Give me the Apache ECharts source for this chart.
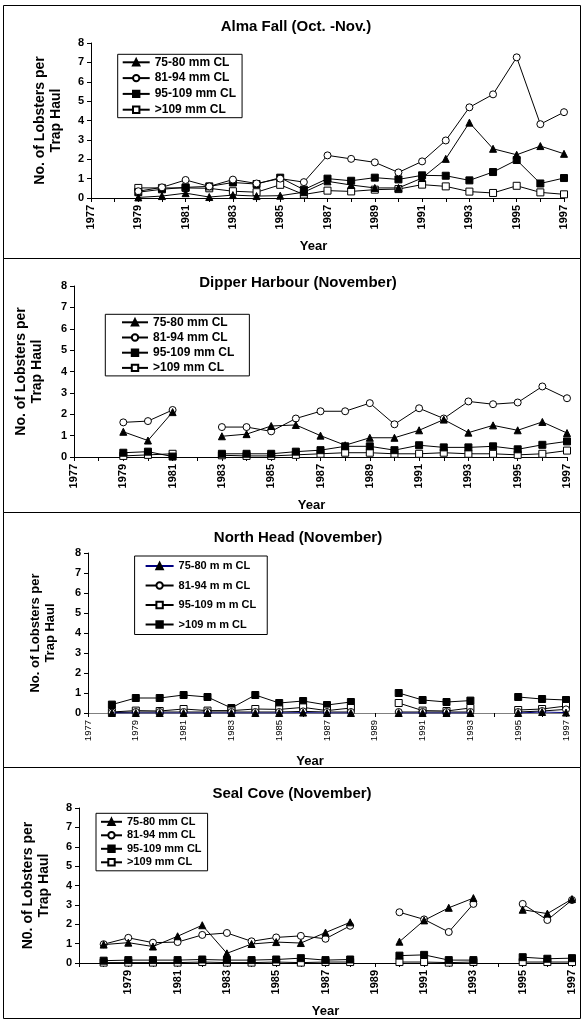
<!DOCTYPE html>
<html>
<head>
<meta charset="utf-8">
<script src="https://cdn.jsdelivr.net/npm/echarts@6/dist/echarts.min.js"></script>
<style>html,body{margin:0;padding:0;background:#fff}#c{width:583px;height:1021px}</style>
</head>
<body>
<div id="c"></div>
<script>
// ---- data ----
const years = ['1977','1978','1979','1980','1981','1982','1983','1984','1985','1986','1987','1988','1989','1990','1991','1992','1993','1994','1995','1996','1997'];
const yTicks = [0,1,2,3,4,5,6,7,8];

// Alma Fall (Oct.-Nov.)
const alma75  = [null,null,0.03,0.10,0.25,0.05,0.15,0.10,0.12,0.30,0.86,0.67,0.52,0.52,1.03,2.02,3.89,2.54,2.23,2.68,2.28];
const alma81  = [null,null,0.35,0.55,0.93,0.60,0.95,0.75,1.00,0.82,2.20,2.02,1.84,1.32,1.89,2.97,4.68,5.35,7.26,3.81,4.43];
const alma95  = [null,null,0.30,0.45,0.55,0.60,0.80,0.72,1.05,0.43,1.00,0.89,1.05,0.96,1.17,1.15,0.91,1.34,1.96,0.75,1.03];
const alma109 = [null,null,0.52,0.52,0.52,0.50,0.35,0.30,0.68,0.18,0.38,0.34,0.43,0.46,0.69,0.60,0.33,0.26,0.63,0.29,0.19];

// Dipper Harbour (November)
const dip75  = [null,null,1.18,0.77,2.10,null,0.97,1.07,1.45,1.50,1.00,0.55,0.90,0.90,1.25,1.75,1.14,1.48,1.25,1.64,1.12];
const dip81  = [null,null,1.62,1.68,2.20,null,1.40,1.40,1.20,1.80,2.14,2.14,2.52,1.53,2.28,1.80,2.60,2.47,2.55,3.30,2.75];
const dip95  = [null,null,0.20,0.25,0.02,null,0.15,0.15,0.15,0.25,0.32,0.50,0.50,0.32,0.55,0.45,0.45,0.50,0.36,0.57,0.73];
const dip109 = [null,null,0.05,0.10,0.15,null,0.08,0.05,0.05,0.10,0.15,0.20,0.20,0.15,0.15,0.20,0.15,0.15,0.10,0.15,0.30];

// North Head (November)
const nh75  = [null,0.00,0.00,0.00,0.00,0.00,0.00,0.00,0.00,0.02,0.00,0.00,null,0.00,0.00,0.00,0.00,null,0.00,0.05,0.02];
const nh81  = [null,0.02,0.05,0.05,0.05,0.05,0.05,0.05,0.05,0.08,0.05,0.05,null,0.05,0.05,0.05,0.05,null,0.05,0.10,0.18];
const nh95  = [null,0.05,0.12,0.10,0.20,0.12,0.12,0.20,0.18,0.28,0.12,0.25,null,0.50,0.12,0.10,0.25,null,0.15,0.20,0.35];
const nh109 = [null,0.42,0.75,0.75,0.90,0.80,0.25,0.90,0.50,0.60,0.40,0.55,null,1.00,0.65,0.55,0.62,null,0.80,0.70,0.65];

// Seal Cove (November)
const sc75  = [null,0.95,1.05,0.85,1.38,1.95,0.50,0.98,1.08,1.03,1.57,2.10,null,1.10,2.20,2.85,3.35,null,2.75,2.55,3.30];
const sc81  = [null,0.97,1.30,1.05,1.08,1.45,1.55,1.12,1.32,1.40,1.25,1.92,null,2.62,2.25,1.60,3.05,null,3.05,2.22,3.25];
const sc95  = [null,0.12,0.15,0.15,0.15,0.18,0.15,0.15,0.18,0.25,0.15,0.18,null,0.38,0.42,0.15,0.15,null,0.30,0.22,0.25];
const sc109 = [null,0.02,0.02,0.02,0.02,0.05,0.02,0.02,0.05,0.02,0.05,0.05,null,0.05,0.05,0.02,0.05,null,0.05,0.05,0.05];

const titles = ['Alma Fall (Oct. -Nov.)','Dipper Harbour (November)','North Head (November)','Seal Cove (November)'];
const yNames = ['No. of Lobsters per\nTrap Haul','No. of Lobsters per\nTrap Haul','No. of Lobsters per\nTrap Haul','N0. of Lobsters per\nTrap Haul'];
const xName = 'Year';
const sizeNames = ['75-80 mm CL','81-94 mm CL','95-109 mm CL','>109 mm CL'];
const sizeNamesNH = ['75-80 m m CL','81-94 m m CL','95-109 m m CL','>109 m m CL'];

// ---- styles ----
const FONT = 'Arial, "Liberation Sans", sans-serif';
const sym = {
  triBlack: {symbol:'triangle', color:'#000'},
  circWhite: {symbol:'circle', color:'#fff'},
  sqBlack: {symbol:'rect', color:'#000'},
  sqWhite: {symbol:'rect', color:'#fff'}
};

const panels = [
  {grid:{left:91,right:19,top:43,height:155}, title:{x:296,y:19,size:15},
   names:sizeNames, sfx:'', data:[alma75,alma81,alma95,alma109],
   syms:[sym.triBlack,sym.circWhite,sym.sqBlack,sym.sqWhite],
   legend:{left:117.7,top:54.3,padding:[1,6,1,4],itemWidth:27,itemGap:1.8,font:12,lh:14},
   yName:{gap:27,size:14}, xLab:{size:11,bold:true}, xAxisColor:'#000', hide1977:false,
   yearPad:28, lineColors:['#000','#000','#000','#000']},
  {grid:{left:74,right:16,top:286,height:171}, title:{x:298,y:275,size:15},
   names:sizeNames, sfx:' ', data:[dip75,dip81,dip95,dip109],
   syms:[sym.triBlack,sym.circWhite,sym.sqBlack,sym.sqWhite],
   legend:{left:105.3,top:314.3,padding:[1,15,1,15.7],itemWidth:26,itemGap:1.2,font:12,lh:14},
   yName:{gap:29,size:14}, xLab:{size:11,bold:true}, xAxisColor:'#000', hide1977:false,
   yearPad:18, lineColors:['#000','#000','#000','#000']},
  {grid:{left:88,right:17,top:553,height:160}, title:{x:298,y:530,size:15},
   names:sizeNamesNH, sfx:'', data:[nh75,nh81,nh95,nh109],
   syms:[sym.triBlack,sym.circWhite,sym.sqWhite,sym.sqBlack],
   legend:{left:134.6,top:556,padding:[3,11,3,10],itemWidth:28,itemGap:5.5,font:11,lh:14},
   yName:{gap:30,size:13}, xLab:{size:9.5,bold:false}, xAxisColor:'#808080', hide1977:false,
   yearPad:34, lineColors:['#000080','#000','#000','#000']},
  {grid:{left:79,right:11,top:808,height:155}, title:{x:292,y:786,size:15},
   names:sizeNames, sfx:'  ', data:[sc75,sc81,sc95,sc109],
   syms:[sym.triBlack,sym.circWhite,sym.sqBlack,sym.sqWhite],
   legend:{left:96,top:813.3,padding:[2,6,2,4],itemWidth:21,itemGap:0.5,font:11,lh:13},
   yName:{gap:27,size:14}, xLab:{size:11,bold:true}, xAxisColor:'#000', hide1977:true,
   yearPad:0, lineColors:['#000','#000','#000','#000']}
];

const option = {
  backgroundColor:'#fff',
  animation:false,
  title:[], grid:[], xAxis:[], yAxis:[], legend:[], series:[],
  graphic:[]
};

// panel frames
const frames = [[5,253],[258,254],[512,255],[767,251]];
frames.forEach(f=>{
  option.graphic.push({type:'rect', shape:{x:3.5,y:f[0]+0.5,width:577,height:f[1]}, style:{fill:'none',stroke:'#000',lineWidth:1}, silent:true});
});

panels.forEach((p,i)=>{
  option.title.push({text:titles[i], left:p.title.x, top:p.title.y, textAlign:'center', padding:0,
    textStyle:{fontFamily:FONT,fontWeight:'bold',fontSize:p.title.size,color:'#000'}});
  option.grid.push(Object.assign({containLabel:false}, p.grid));
  option.xAxis.push({
    type:'category', gridIndex:i, data:years, boundaryGap:false,
    name:xName, nameLocation:'middle', nameGap:42,
    nameTextStyle:{fontFamily:FONT,fontWeight:'bold',fontSize:13,color:'#000',padding:[0,p.yearPad,0,0]},
    axisLine:{show:true,onZero:false,lineStyle:{color:p.xAxisColor,width:1}},
    axisTick:{show:true,interval:0,length:4,lineStyle:{color:'#000'}},
    axisLabel:{rotate:90, margin:7, color:'#000', fontFamily:FONT, fontWeight:p.xLab.bold?'bold':'normal', fontSize:p.xLab.size,
      interval:(idx,val)=> idx%2===0 && !(p.hide1977 && val==='1977')},
    splitLine:{show:false}
  });
  option.yAxis.push({
    type:'value', gridIndex:i, min:yTicks[0], max:yTicks[yTicks.length-1], interval:1,
    name:yNames[i], nameLocation:'middle', nameGap:p.yName.gap, nameRotate:90,
    nameTextStyle:{fontFamily:FONT,fontWeight:'bold',fontSize:p.yName.size,color:'#000',lineHeight:p.yName.size+2,align:'center'},
    axisLine:{show:true,lineStyle:{color:'#000',width:1}},
    axisTick:{show:true,length:4,lineStyle:{color:'#000'}},
    axisLabel:{margin:7,color:'#000',fontFamily:FONT,fontWeight:'bold',fontSize:11},
    splitLine:{show:false}
  });
  const names = p.names.map(n=>n+p.sfx);
  option.legend.push({
    data:names, orient:'vertical', left:p.legend.left, top:p.legend.top,
    padding:p.legend.padding, itemWidth:p.legend.itemWidth, itemHeight:8, itemGap:p.legend.itemGap,
    borderColor:'#000', borderWidth:1, backgroundColor:'#fff', selectedMode:false,
    formatter:n=>n.trim(),
    textStyle:{fontFamily:FONT,fontWeight:'bold',fontSize:p.legend.font,color:'#000',lineHeight:p.legend.lh}
  });
  p.data.forEach((d,k)=>{
    option.series.push({
      type:'line', name:names[k], xAxisIndex:i, yAxisIndex:i, data:d,
      connectNulls:false, symbol:p.syms[k].symbol, symbolSize:7,
      lineStyle:{color:p.lineColors[k],width:1},
      itemStyle:{color:p.syms[k].color,borderColor:'#000',borderWidth:1},
      z: 10-k
    });
  });
});

const chart = echarts.init(document.getElementById('c'), null, {renderer:'canvas'});
chart.setOption(option);
</script>
</body>
</html>
